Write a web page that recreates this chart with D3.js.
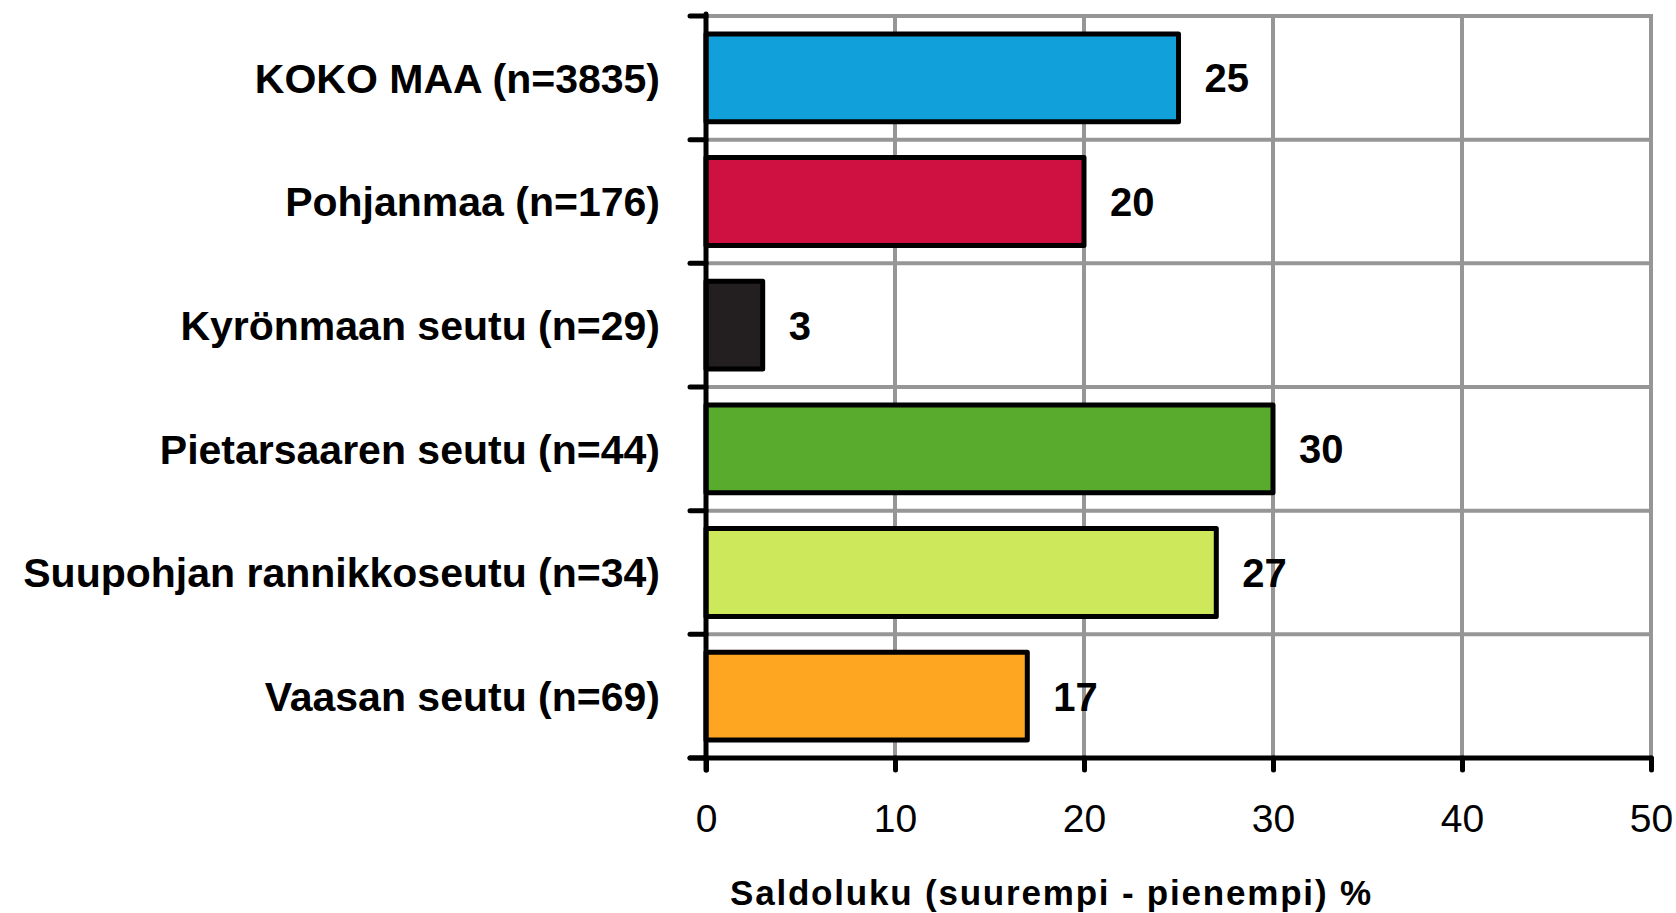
<!DOCTYPE html>
<html>
<head>
<meta charset="utf-8">
<script src="https://cdn.jsdelivr.net/npm/d3@7"></script>
<style>
  body { margin: 0; background: #fff; }
  text { font-family: "Liberation Sans", Arial, sans-serif; fill: #000; }
</style>
</head>
<body>
<div class="chart"></div>
<script>
var categories = [
    "KOKO MAA (n=3835)",
    "Pohjanmaa (n=176)",
    "Kyrönmaan seutu (n=29)",
    "Pietarsaaren seutu (n=44)",
    "Suupohjan rannikkoseutu (n=34)",
    "Vaasan seutu (n=69)"
];
var values = [25, 20, 3, 30, 27, 17];
var barColors = ["#11a0da", "#cf1141", "#231f20", "#59ab2e", "#cde85a", "#fea621"];
var xTicks = [0, 10, 20, 30, 40, 50];
var axisTitle = "Saldoluku (suurempi - pienempi) %";

var svgWidth = 1676;
var svgHeight = 913;

var svg = d3.select(".chart")
    .append("svg")
    .attr("width", svgWidth)
    .attr("height", svgHeight);

var xScale = d3.scaleLinear()
    .domain([0, 50])
    .range([706, 1651]);

var yScale = d3.scaleBand()
    .domain(categories)
    .range([16, 758])
    .paddingInner(0.29)
    .paddingOuter(0.145);

var step = yScale.step();
var top0 = yScale.range()[0];
var bottom0 = yScale.range()[1];

// grid
var gridGroup = svg.append("g");
gridGroup.selectAll(".vgrid")
    .data(xTicks.slice(1))
    .enter()
    .append("line")
    .attr("x1", d => xScale(d))
    .attr("x2", d => xScale(d))
    .attr("y1", top0)
    .attr("y2", bottom0)
    .attr("stroke", "#969696")
    .attr("stroke-width", 4);

gridGroup.selectAll(".hgrid")
    .data(d3.range(categories.length))
    .enter()
    .append("line")
    .attr("x1", xScale(0))
    .attr("x2", xScale(50) + 2)
    .attr("y1", i => top0 + i * step)
    .attr("y2", i => top0 + i * step)
    .attr("stroke", "#969696")
    .attr("stroke-width", 4);

// bars
svg.selectAll(".bar")
    .data(values)
    .enter()
    .append("rect")
    .attr("x", xScale(0))
    .attr("y", (d, i) => yScale(categories[i]))
    .attr("width", d => xScale(d) - xScale(0))
    .attr("height", yScale.bandwidth())
    .attr("fill", (d, i) => barColors[i])
    .attr("stroke", "#000")
    .attr("stroke-width", 5)
    .attr("stroke-linejoin", "round");

// x axis
var bottomAxis = d3.axisBottom(xScale)
    .tickValues(xTicks)
    .tickSize(12)
    .tickSizeOuter(0);

var xAxis = svg.append("g")
    .attr("transform", `translate(0, ${bottom0})`)
    .call(bottomAxis);

xAxis.select(".domain").remove();
xAxis.selectAll(".tick line")
    .attr("stroke", "#000")
    .attr("stroke-width", 5)
    .attr("stroke-linecap", "round");
xAxis.selectAll(".tick text")
    .attr("y", 74)
    .attr("dy", 0)
    .style("font-size", "39px")
    .style("font-family", "'Liberation Sans', Arial, sans-serif")
    .attr("fill", "#000");

// axis lines
svg.append("line")
    .attr("x1", 690)
    .attr("x2", xScale(50))
    .attr("y1", bottom0)
    .attr("y2", bottom0)
    .attr("stroke", "#000")
    .attr("stroke-width", 5)
    .attr("stroke-linecap", "round");

svg.append("line")
    .attr("x1", xScale(0))
    .attr("x2", xScale(0))
    .attr("y1", top0 - 2)
    .attr("y2", bottom0 + 12)
    .attr("stroke", "#000")
    .attr("stroke-width", 5)
    .attr("stroke-linecap", "round");

// category boundary ticks
svg.selectAll(".ytick")
    .data(d3.range(categories.length + 1))
    .enter()
    .append("line")
    .attr("x1", 690)
    .attr("x2", xScale(0))
    .attr("y1", i => top0 + i * step)
    .attr("y2", i => top0 + i * step)
    .attr("stroke", "#000")
    .attr("stroke-width", 5)
    .attr("stroke-linecap", "round");

// category labels
svg.selectAll(".catlabel")
    .data(categories)
    .enter()
    .append("text")
    .attr("x", 660)
    .attr("y", d => yScale(d) + yScale.bandwidth() / 2)
    .attr("dy", "0.36em")
    .attr("text-anchor", "end")
    .style("font-size", "41px")
    .style("font-weight", "bold")
    .text(d => d);

// value labels
svg.selectAll(".vallabel")
    .data(values)
    .enter()
    .append("text")
    .attr("x", d => xScale(d) + 26)
    .attr("y", (d, i) => yScale(categories[i]) + yScale.bandwidth() / 2)
    .attr("dy", "0.36em")
    .style("font-size", "40px")
    .style("font-weight", "bold")
    .text(d => d);

// axis title
svg.append("text")
    .attr("x", 730)
    .attr("y", 905)
    .style("font-size", "35px")
    .style("font-weight", "bold")
    .style("letter-spacing", "1.8px")
    .text(axisTitle);
</script>
</body>
</html>
